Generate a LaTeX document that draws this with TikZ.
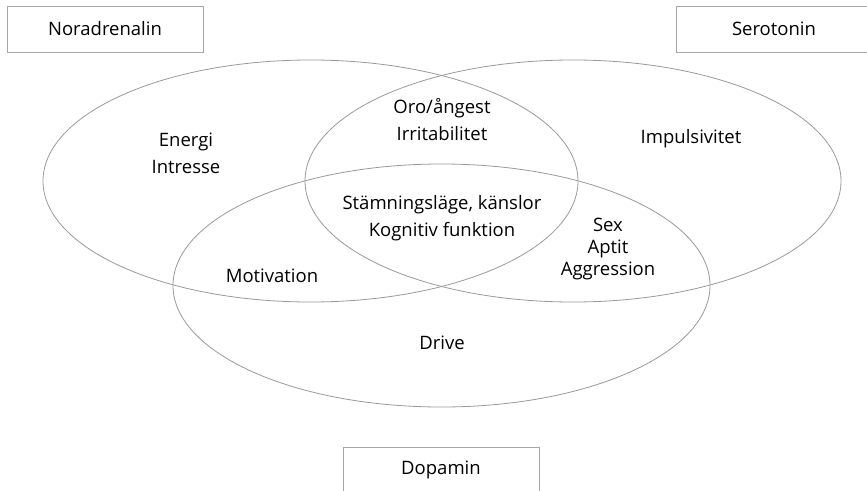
\documentclass[tikz,border=0pt]{standalone}
\usepackage{fontspec}
\setmainfont{Open Sans}

\begin{document}
\begin{tikzpicture}[x=1pt,y=-1pt,
    every node/.style={font=\fontsize{18.5}{27}\selectfont,align=center,inner sep=0pt},
    transbox/.style={draw=black!35,line width=0.8pt,minimum width=196pt,minimum height=46pt},
    setline/.style={draw=black!40,line width=0.8pt}]
    \useasboundingbox (0,0) rectangle (867,490);

    % signalsubstanser
    \node[transbox]  (nor) at (105,29)    {Noradrenalin};
    \node[transbox]  (ser) at (774,29)    {Serotonin};
    \node[transbox]  (dop) at (441,470)   {Dopamin};

    % mängderna
    \draw[setline] (310.5,181) ellipse (267.5 and 121);
    \draw[setline] (573,181)   ellipse (268 and 121);
    \draw[setline] (441.5,285.5) ellipse (268.5 and 121.5);

    % funktioner
    \node (energi)  at (186,153)  {Energi\\Intresse};
    \node (impuls)  at (691,139)  {Impulsivitet};
    \node (oro)     at (442,120)  {Oro/ångest\\Irritabilitet};
    \node (stamn)   at (442,218)  {Stämningsläge, känslor\\Kognitiv funktion};
    \node (sex)     at (608,249)  [font=\fontsize{18.5}{22}\selectfont] {Sex\\Aptit\\Aggression};
    \node (motiv)   at (272,276)  {Motivation};
    \node (drive)   at (442,343)  {Drive};
\end{tikzpicture}
\end{document}
